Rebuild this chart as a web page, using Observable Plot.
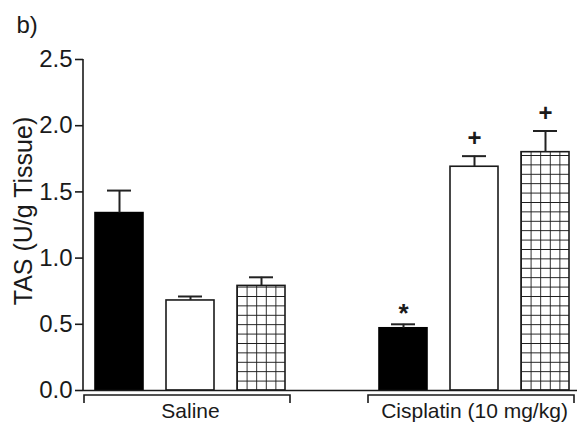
<!DOCTYPE html>
<html><head><meta charset="utf-8">
<script src="https://cdn.jsdelivr.net/npm/d3@7"></script>
<script src="https://cdn.jsdelivr.net/npm/@observablehq/plot@0.6"></script>
<style>body{margin:0;background:#fff;} #chart{width:577px;height:424px;}</style>
</head><body><div id="chart"></div>
<script>
// ---- data ----
const groupNames = ["Saline", "Cisplatin (10 mg/kg)"];
const groups = ["Saline", "Saline", "Saline", "Cisplatin (10 mg/kg)", "Cisplatin (10 mg/kg)", "Cisplatin (10 mg/kg)"];
const treatments = ["Vehicle", "Treatment A", "Treatment B", "Vehicle", "Treatment A", "Treatment B"];
const fillTypes = ["solid", "open", "grid", "solid", "open", "grid"];
const means = [1.34, 0.68, 0.79, 0.47, 1.69, 1.80];
const sems = [0.17, 0.03, 0.065, 0.03, 0.08, 0.16];
const signif = ["", "", "", "*", "+", "+"];
const yTicks = [0, 0.5, 1.0, 1.5, 2.0, 2.5];
const yLabel = "TAS (U/g Tissue)";
const panelLabel = "b)";

// ---- build table ----
const rows = groups.map((g, i) => ({
  key: g + "|" + treatments[i], group: g, treatment: treatments[i],
  fill: fillTypes[i], mean: means[i], sem: sems[i], mark: signif[i]
}));
const slots = [];
groupNames.forEach((g, gi) => {
  if (gi > 0) slots.push("gap" + gi);
  rows.filter(r => r.group === g).forEach(r => slots.push(r.key));
});
const gridRows = rows.filter(r => r.fill === "grid");
const middleKey = g => { const k = rows.filter(r => r.group === g); return k[Math.floor(k.length / 2)].key; };

const ink = "#1a1a1a";
const ns = "http://www.w3.org/2000/svg";
function el(name, attrs) {
  const e = document.createElementNS(ns, name);
  for (const k in attrs) e.setAttribute(k, attrs[k]);
  return e;
}

function extras(index, scales, values, dims) {
  const x = scales.x, y = scales.y;
  const bw = typeof x.bandwidth === "function" ? x.bandwidth() : 48;
  const g = el("g", {});
  const defs = el("defs", {});
  gridRows.forEach((r, i) => {
    const cw = bw / 5, ch = 9.4;
    const p = el("pattern", {id: "grid" + i, patternUnits: "userSpaceOnUse",
      x: x(r.key), y: y(0), width: cw, height: ch});
    p.appendChild(el("rect", {x: 0, y: 0, width: cw, height: ch, fill: "#fff"}));
    p.appendChild(el("path", {d: `M0,0V${ch}M0,0H${cw}`, stroke: ink, "stroke-width": 1.8, fill: "none"}));
    defs.appendChild(p);
  });
  g.appendChild(defs);
  // y axis line
  g.appendChild(el("line", {x1: dims.marginLeft, x2: dims.marginLeft, y1: y(0), y2: y(2.5),
    stroke: ink, "stroke-width": 1.6}));
  // group brackets
  groupNames.forEach(name => {
    const ks = rows.filter(r => r.group === name).map(r => r.key);
    const x1 = x(ks[0]) - 11, x2 = x(ks[ks.length - 1]) + bw + 5;
    const y1 = y(0) + 5, y2 = y(0) + 13;
    g.appendChild(el("path", {d: `M${x1},${y2}V${y1}H${x2}V${y2}`, stroke: ink, "stroke-width": 1.6, fill: "none"}));
  });
  return g;
}

const chart = Plot.plot({
  width: 577, height: 424,
  marginLeft: 83, marginRight: 0, marginTop: 59, marginBottom: 34,
  style: {fontFamily: "'Liberation Sans', Arial, sans-serif", fontSize: "24px", color: ink, background: "#fff"},
  x: {domain: slots, range: [83, 581], paddingInner: 0.324, paddingOuter: 0.169, axis: null},
  y: {domain: [0, 2.5], axis: null},
  marks: [
    extras,
    Plot.barY(rows.filter(r => r.fill === "solid"), {x: "key", y: "mean", fill: "#000", stroke: "#000", strokeWidth: 1.6}),
    Plot.barY(rows.filter(r => r.fill === "open"), {x: "key", y: "mean", fill: "#fff", stroke: ink, strokeWidth: 1.6}),
    Plot.barY([gridRows[0]], {x: "key", y: "mean", fill: "url(#grid0)", stroke: ink, strokeWidth: 1.6}),
    Plot.barY([gridRows[1]], {x: "key", y: "mean", fill: "url(#grid1)", stroke: ink, strokeWidth: 1.6}),
    Plot.ruleY([0], {stroke: ink, strokeWidth: 1.6}),
    Plot.ruleX(rows, {x: "key", y1: "mean", y2: d => d.mean + d.sem, stroke: "#222", strokeWidth: 2}),
    Plot.tickY(rows, {x: "key", y: d => d.mean + d.sem, stroke: "#222", strokeWidth: 2, insetLeft: 12, insetRight: 12}),
    Plot.text(rows.filter(r => r.mark === "*"), {x: "key", y: d => d.mean + d.sem, text: "mark", dy: -11, fontSize: 26, fontWeight: "bold", fill: ink}),
    Plot.text(rows.filter(r => r.mark === "+"), {x: "key", y: d => d.mean + d.sem, text: "mark", dy: -18, fontSize: 24, fontWeight: "bold", fill: ink}),
    Plot.axisY(yTicks, {tickSize: 8, tickPadding: 3, fontSize: 24, tickFormat: d3.format(".1f"), label: null, stroke: ink, strokeWidth: 1.6, fill: ink}),
    Plot.text(groupNames, {x: middleKey, text: d => d, frameAnchor: "bottom", lineAnchor: "top", dy: 13, fontSize: 21, fill: ink}),
    Plot.text([yLabel], {text: d => d, frameAnchor: "left", textAnchor: "middle", rotate: -90, dx: -60, dy: -14, fontSize: 25, fill: ink}),
    Plot.text([panelLabel], {text: d => d, frameAnchor: "top-left", textAnchor: "start", lineAnchor: "top", dx: -67, dy: -44, fontSize: 24, fill: ink})
  ]
});
document.getElementById("chart").appendChild(chart);
</script>
</body></html>
